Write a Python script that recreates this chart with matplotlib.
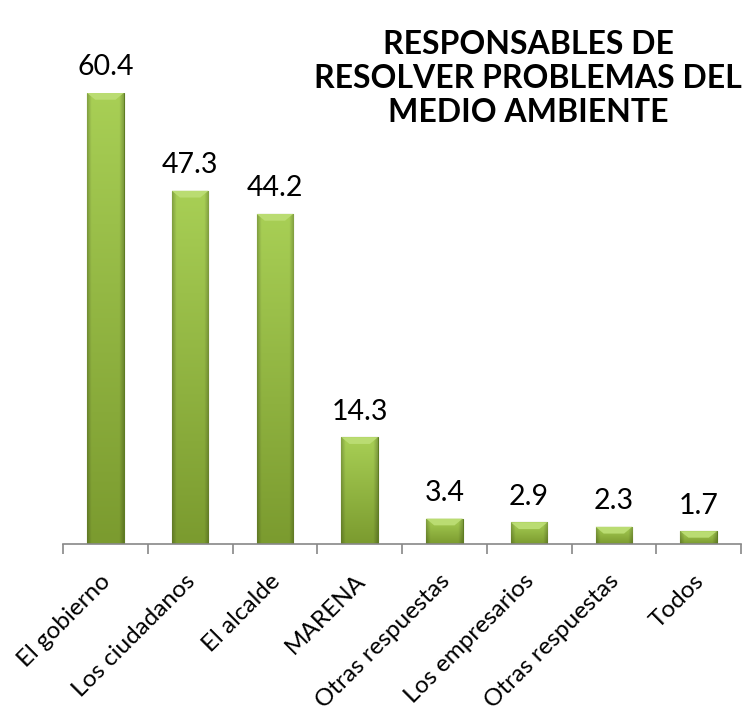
import numpy as np
import matplotlib.pyplot as plt
import matplotlib.transforms as mtransforms
from matplotlib.colors import to_rgb

categories = ['El gobierno', 'Los ciudadanos', 'El alcalde', 'MARENA',
              'Otras respuestas', 'Los empresarios', 'Otras respuestas', 'Todos']
values = [60.4, 47.3, 44.2, 14.3, 3.4, 2.9, 2.3, 1.7]
title = 'RESPONSABLES DE\nRESOLVER PROBLEMAS DEL\nMEDIO AMBIENTE'

plt.rcParams['font.family'] = ['Lato', 'DejaVu Sans']

fig = plt.figure(figsize=[7.42, 7.13], dpi=100)
ax = fig.add_axes([63 / 742, 1 - 544 / 713, 678 / 742, (544 - 93) / 713])

x = np.arange(len(values))
bars = ax.bar(x, values, width=0.43, color='#8db83c', edgecolor='#5e7d22', linewidth=0.8, zorder=2)

# shading: lighter at the top, darker at the bottom and at the sides
top_c = np.array(to_rgb('#a8cf55'))
bot_c = np.array(to_rgb('#7b9b2f'))
t = np.linspace(1, 0, 80)[:, None, None]
col = bot_c + (top_c - bot_c) * t
u = np.linspace(0, 1, 60)
side = 1 - 0.22 * np.clip(1 - np.minimum(u, 1 - u) / 0.12, 0, 1)
img = np.clip(col * side[None, :, None], 0, 1)

for b in bars:
    x0, w, h = b.get_x(), b.get_width(), b.get_height()
    im = ax.imshow(img, aspect='auto', extent=[x0, x0 + w, 0, h], zorder=2.5,
                   interpolation='bilinear')
    im.set_clip_path(b)
    bevel = min(0.9, h * 0.5)
    ax.fill([x0, x0 + w, x0 + w - w * 0.22, x0 + w * 0.22], [h, h, h - bevel, h - bevel],
            color='#badc72', zorder=2.6, lw=0)

for xi, v in zip(x, values):
    ax.annotate('%.1f' % v, (xi, v), xytext=(0, 9), textcoords='offset points',
                ha='center', va='bottom', fontsize=20.5)

ax.set_xlim(-0.5, len(values) - 0.5)
ax.set_ylim(0, 60.4)
ax.set_xticks(np.arange(len(values) + 1) - 0.5)
ax.set_xticklabels([])
ax.tick_params(axis='x', length=7, color='#888888', width=1.2)
ax.set_yticks([])
for s in ['top', 'right', 'left']:
    ax.spines[s].set_visible(False)
ax.spines['bottom'].set_color('#888888')
ax.spines['bottom'].set_linewidth(1.2)

offset = mtransforms.ScaledTranslation(0.02, -0.34, fig.dpi_scale_trans)
for xi, lab in zip(x, categories):
    ax.text(xi, 0, lab, transform=ax.get_xaxis_transform() + offset,
            rotation=45, rotation_mode='anchor', ha='right', va='center', fontsize=17.5)

fig.text(528 / 742, 1 - 30 / 713, title, ha='center', va='top', fontsize=23,
         fontweight='bold', linespacing=1.2)

fig.savefig('out.png', dpi=100)
